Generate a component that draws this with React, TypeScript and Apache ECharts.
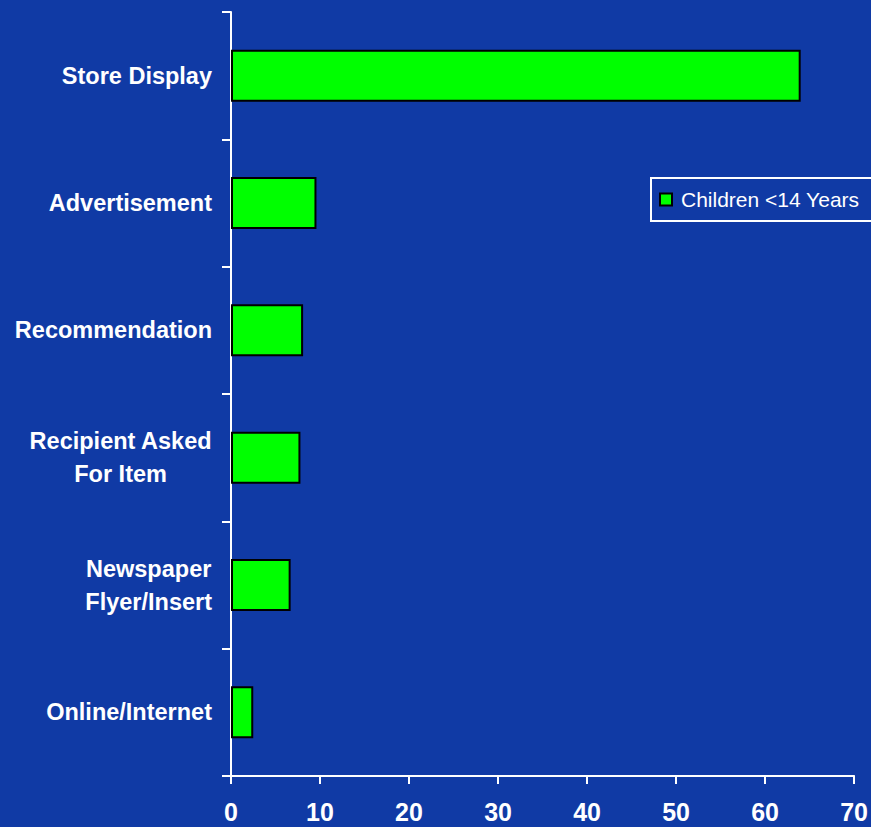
import React, { useEffect, useRef } from "react";
import * as echarts from "echarts";

const categories = [
  "Store Display",
  "Advertisement",
  "Recommendation",
  "Recipient Asked\nFor Item",
  "Newspaper\nFlyer/Insert",
  "Online/Internet",
];
const seriesName = "Children <14 Years";
const values = [64, 9.6, 8.1, 7.8, 6.7, 2.5];
const xTicks = { min: 0, max: 70, interval: 10 };

export default function App() {
  const ref = useRef<HTMLDivElement>(null);
  useEffect(() => {
    document.body.style.margin = "0";
    const chart = echarts.init(ref.current!, undefined, { renderer: "svg" });
    chart.setOption({
      animation: false,
      backgroundColor: "#103aa5",
      textStyle: { fontFamily: "Liberation Sans, Arial, sans-serif" },
      grid: { left: 231, right: 16, top: 12, bottom: 51, containLabel: false },
      legend: {
        show: true,
        data: [seriesName],
        left: 651,
        top: 178,
        orient: "vertical",
        padding: [11, 34, 11, 8],
        itemWidth: 12,
        itemHeight: 12,
        itemGap: 8,
        borderColor: "#ffffff",
        borderWidth: 2,
        icon: "rect",
        textStyle: {
          color: "#ffffff",
          fontSize: 21,
          fontFamily: "Liberation Sans, Arial, sans-serif",
          padding: [0, 0, 0, 4],
        },
        itemStyle: { borderColor: "#000000", borderWidth: 2 },
      },
      xAxis: {
        type: "value",
        min: xTicks.min,
        max: xTicks.max,
        interval: xTicks.interval,
        splitLine: { show: false },
        axisLine: { show: true, lineStyle: { color: "#ffffff", width: 2 } },
        axisTick: { show: true, length: 8, lineStyle: { color: "#ffffff", width: 2 } },
        axisLabel: {
          color: "#ffffff",
          fontSize: 25,
          fontWeight: "bold",
          fontFamily: "Liberation Sans, Arial, sans-serif",
          margin: 23,
        },
      },
      yAxis: {
        type: "category",
        inverse: true,
        data: categories,
        axisLine: { show: true, lineStyle: { color: "#ffffff", width: 2 } },
        axisTick: { show: true, length: 9, lineStyle: { color: "#ffffff", width: 2 } },
        axisLabel: {
          margin: 19,
          align: "right",
          formatter: (v: string) =>
            v
              .split("\n")
              .map((s) => `{a|${s}}`)
              .join("\n"),
          rich: {
            a: {
              color: "#ffffff",
              fontSize: 23.5,
              fontWeight: "bold",
              fontFamily: "Liberation Sans, Arial, sans-serif",
              align: "center",
              lineHeight: 33,
            },
          },
        },
      },
      series: [
        {
          name: seriesName,
          type: "bar",
          data: values,
          barWidth: 52,
          itemStyle: { color: "#00ff00", borderColor: "#000000", borderWidth: 2 },
        },
      ],
    });
    return () => chart.dispose();
  }, []);
  return <div ref={ref} style={{ width: 871, height: 827 }} />;
}
